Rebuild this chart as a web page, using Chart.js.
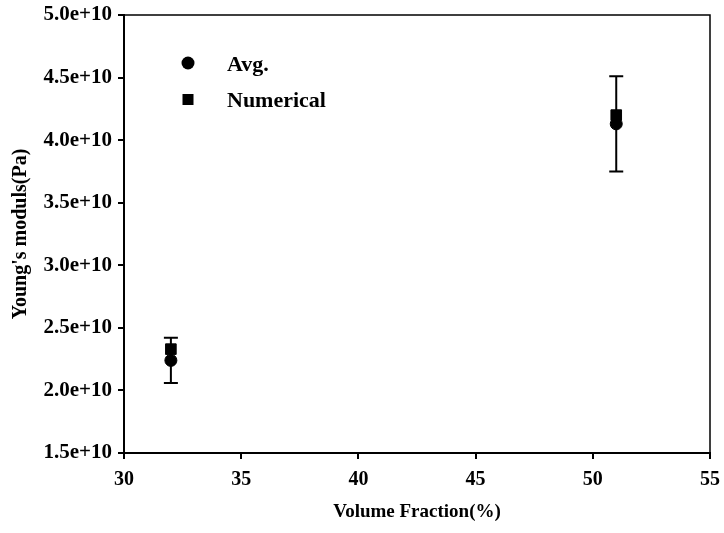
<!DOCTYPE html>
<html>
<head>
<meta charset="utf-8">
<script src="https://cdn.jsdelivr.net/npm/chart.js@4"></script>
<style>
  html, body { margin: 0; padding: 0; background: #fff; }
  #wrap { width: 724px; height: 533px; }
</style>
</head>
<body>
<div id="wrap"><canvas id="modulusChart"></canvas></div>
<script>
let volumeFraction = [32, 51];
let avgModulus = [2.24e10, 4.13e10];
let avgError = [0.18e10, 0.38e10];
let numericalModulus = [2.33e10, 4.20e10];
let seriesLabels = ["Avg.", "Numerical"];

let serif = "'Liberation Serif', 'Times New Roman', serif";

// error bars on the Avg. series, drawn through the scales
let errorBars = {
  id: "errorBars",
  afterDatasetsDraw(chart) {
    let ctx = chart.ctx;
    let xs = chart.scales.x;
    let ys = chart.scales.y;
    ctx.save();
    ctx.strokeStyle = "#000";
    ctx.lineWidth = 2;
    volumeFraction.forEach((v, i) => {
      let x = xs.getPixelForValue(v);
      let yTop = ys.getPixelForValue(avgModulus[i] + avgError[i]);
      let yBot = ys.getPixelForValue(avgModulus[i] - avgError[i]);
      ctx.beginPath();
      ctx.moveTo(x, yTop);
      ctx.lineTo(x, yBot);
      ctx.moveTo(x - 7, yTop);
      ctx.lineTo(x + 7, yTop);
      ctx.moveTo(x - 7, yBot);
      ctx.lineTo(x + 7, yBot);
      ctx.stroke();
    });
    ctx.restore();
  },
};

// box frame + legend inside the plot
let frameAndLegend = {
  id: "frameAndLegend",
  afterDraw(chart) {
    let ctx = chart.ctx;
    let a = chart.chartArea;
    ctx.save();
    ctx.strokeStyle = "#000";
    ctx.lineWidth = 1.5;
    ctx.beginPath();
    ctx.moveTo(a.left, a.top);
    ctx.lineTo(a.right, a.top);
    ctx.lineTo(a.right, a.bottom);
    ctx.stroke();

    ctx.fillStyle = "#000";
    ctx.font = "bold 22px " + serif;
    ctx.textBaseline = "middle";
    let mx = a.left + 64;
    let tx = a.left + 103;
    // Avg.
    ctx.beginPath();
    ctx.arc(mx, a.top + 48, 6.5, 0, Math.PI * 2);
    ctx.fill();
    ctx.fillText(seriesLabels[0], tx, a.top + 50);
    // Numerical
    ctx.fillRect(mx - 5.5, a.top + 79, 11, 11);
    ctx.fillText(seriesLabels[1], tx, a.top + 86);
    ctx.restore();
  },
};

let modulusChart = new Chart(document.getElementById("modulusChart").getContext("2d"), {
  type: "scatter",
  data: {
    datasets: [
      {
        label: seriesLabels[0],
        data: volumeFraction.map((v, i) => ({ x: v, y: avgModulus[i] })),
        pointStyle: "circle",
        pointRadius: 6,
        backgroundColor: "#000",
        borderColor: "#000",
      },
      {
        label: seriesLabels[1],
        data: volumeFraction.map((v, i) => ({ x: v, y: numericalModulus[i] })),
        pointStyle: "rect",
        pointRadius: 7.5,
        backgroundColor: "#000",
        borderColor: "#000",
      },
    ],
  },
  options: {
    responsive: true,
    maintainAspectRatio: false,
    animation: false,
    layout: { padding: { left: 0, top: 15, right: 14, bottom: 0 } },
    plugins: {
      legend: { display: false },
      tooltip: { enabled: false },
    },
    scales: {
      x: {
        type: "linear",
        min: 30,
        max: 55,
        afterFit(scale) {
          scale.height = 80;
          scale.paddingLeft = 0;
          scale.paddingRight = 0;
        },
        ticks: {
          stepSize: 5,
          padding: 9,
          color: "#000",
          font: { family: serif, size: 20, weight: "bold" },
        },
        grid: { drawOnChartArea: false, drawTicks: true, tickLength: 6, color: "#000", lineWidth: 2 },
        border: { display: true, color: "#000", width: 2 },
        title: {
          display: true,
          text: "Volume Fraction(%)",
          color: "#000",
          font: { family: serif, size: 19, weight: "bold" },
          padding: { top: 4, bottom: 10 },
        },
      },
      y: {
        type: "linear",
        min: 1.5e10,
        max: 5.0e10,
        afterFit(scale) {
          scale.width = 124;
          scale.paddingTop = 0;
          scale.paddingBottom = 0;
        },
        ticks: {
          stepSize: 5e9,
          padding: 6,
          color: "#000",
          font: { family: serif, size: 21, weight: "bold" },
          callback: (v) => Number(v).toExponential(1),
        },
        grid: { drawOnChartArea: false, drawTicks: true, tickLength: 6, color: "#000", lineWidth: 2 },
        border: { display: true, color: "#000", width: 2 },
        title: {
          display: true,
          text: "Young's moduls(Pa)",
          color: "#000",
          font: { family: serif, size: 20, weight: "bold" },
          padding: { top: 9, bottom: 0 },
        },
      },
    },
  },
  plugins: [errorBars, frameAndLegend],
});
</script>
</body>
</html>
